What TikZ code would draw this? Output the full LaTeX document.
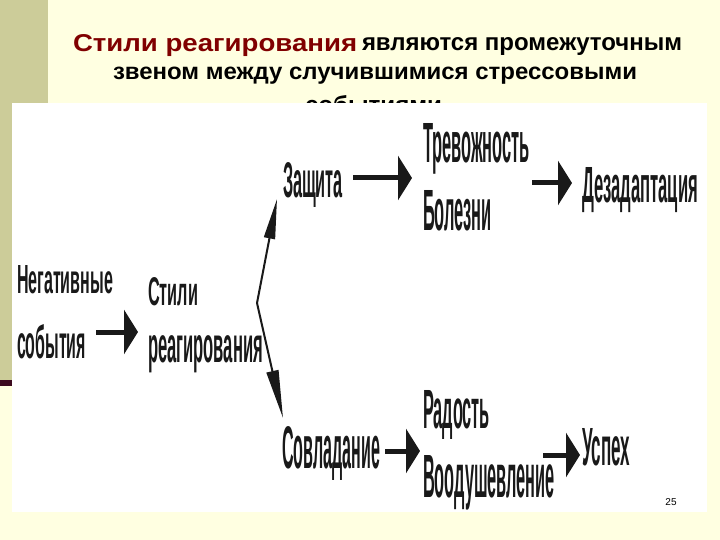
\documentclass[tikz,border=0pt]{standalone}
\usepackage{fontspec}
\setmainfont{Liberation Sans}
\usetikzlibrary{arrows.meta}
\definecolor{bgyellow}{RGB}{255,255,225}
\definecolor{olivestrip}{RGB}{204,204,153}
\definecolor{darkline}{RGB}{60,10,30}
\definecolor{titlered}{RGB}{128,0,0}
\definecolor{ink}{RGB}{25,25,25}
\newcommand{\fitbox}[3]{\resizebox{#1pt}{#2pt}{\bfseries #3}}
\begin{document}
\begin{tikzpicture}[x=1pt,y=-1pt,
  word/.style={inner sep=0pt, outer sep=0pt, anchor=base west, text=ink},
  titletext/.style={inner sep=0pt, outer sep=0pt, anchor=base west},
  harrow/.style={line width=5pt, draw=ink, -{Triangle[length=14pt,width=44pt]}},
  uparrow/.style={line width=2pt, draw=ink, -{Triangle[length=40pt,width=11pt]}},
  downarrow/.style={line width=2pt, draw=ink, -{Triangle[length=48pt,width=12pt]}}]
\useasboundingbox (0,0) rectangle (720,540);
% slide background
\fill[bgyellow] (0,0) rectangle (720,540);
\fill[olivestrip] (0,0) rectangle (48,380);
\fill[darkline] (0,380) rectangle (48,386);
% title
\node[titletext, text=titlered] (t1a) at (73,52) {\fitbox{284}{17}{Стили реагирования}};
\node[titletext, text=black] (t1b) at (362,51) {\fitbox{320}{13}{являются промежуточным}};
\node[titletext, text=black] (t2) at (113,80) {\fitbox{524}{12.5}{звеном между случившимися стрессовыми}};
\node[titletext, text=black] (t3) at (305,114) {\fitbox{137}{18}{событиями}};
% picture area
\fill[white] (12,103) rectangle (707,512);
% words
\node[word] (neg1) at (17,293) {\fitbox{96}{28}{Негативные}};
\node[word] (neg2) at (17,358) {\fitbox{69}{34}{события}};
\node[word] (sty1) at (148,305) {\fitbox{50}{28}{Стили}};
\node[word] (sty2) at (148,362) {\fitbox{115}{27}{реагирования}};
\node[word] (zas) at (283,198) {\fitbox{60}{35}{Защита}};
\node[word] (tre) at (423,163) {\fitbox{107}{39}{Тревожность}};
\node[word] (bol) at (423,230) {\fitbox{69}{40}{Болезни}};
\node[word] (dez) at (582,203) {\fitbox{116}{35}{Дезадаптация}};
\node[word] (sov) at (282,468) {\fitbox{98}{42}{Совладание}};
\node[word] (rad) at (423,428) {\fitbox{67}{38}{Радость}};
\node[word] (vod) at (423,497) {\fitbox{132}{42}{Воодушевление}};
\node[word] (usp) at (582,465) {\fitbox{48}{37}{Успех}};
\node[inner sep=0pt] (pg) at (671,502) {\fontsize{10}{12}\selectfont 25};
% connector ends
\coordinate (a1s) at (96,332);  \coordinate (a1e) at (138,332);
\coordinate (a2s) at (353,178); \coordinate (a2e) at (412,178);
\coordinate (a3s) at (532,183); \coordinate (a3e) at (572,183);
\coordinate (a4s) at (385,451); \coordinate (a4e) at (420,451);
\coordinate (a5s) at (543,455); \coordinate (a5e) at (580,455);
\coordinate (fork) at (257,303);
\coordinate (up) at (277,199);
\coordinate (down) at (283,418);
% connectors
\draw[harrow] (a1s) -- (a1e);
\draw[harrow] (a2s) -- (a2e);
\draw[harrow] (a3s) -- (a3e);
\draw[harrow] (a4s) -- (a4e);
\draw[harrow] (a5s) -- (a5e);
\draw[uparrow] (fork) -- (up);
\draw[downarrow] (fork) -- (down);
\end{tikzpicture}
\end{document}
